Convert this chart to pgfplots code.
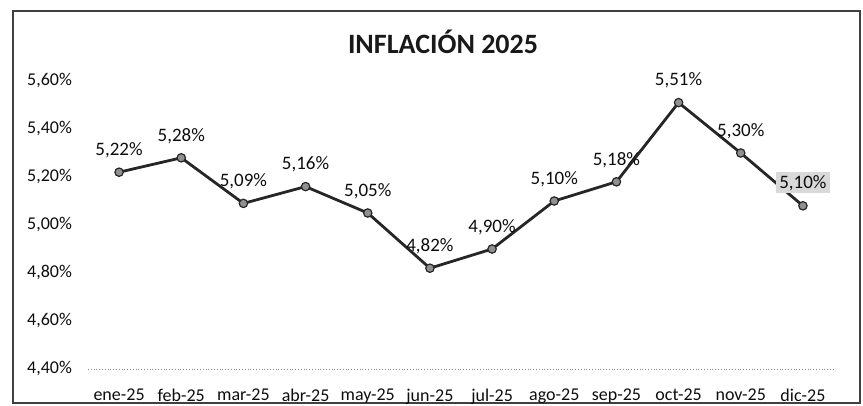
\documentclass[border=0pt]{standalone}
\usepackage{pgfplots}
\pgfplotsset{compat=1.18}
\usepackage{fontspec}
\setmainfont{Carlito}
\begin{document}
\begin{tikzpicture}
\useasboundingbox (0,0) rectangle (431.5pt,-203pt);
\draw[line width=1pt, black!75] (6.5pt,-5.5pt) rectangle (430pt,-201.5pt);
\node[font=\bfseries\fontsize{14}{16}\selectfont, text=black!90] at (221.5pt,-21pt) {INFLACIÓN 2025};
\begin{axis}[
  at={(44pt,-184.5pt)}, anchor=south west,
  scale only axis, width=373pt, height=144pt,
  xmin=-0.5, xmax=11.5, ymin=4.4, ymax=5.6,
  ytick={4.4,4.6,4.8,5.0,5.2,5.4,5.6},
  xtick={0,...,11},
  xticklabels={ene-25,feb-25,mar-25,abr-25,may-25,jun-25,jul-25,ago-25,sep-25,oct-25,nov-25,dic-25},
  yticklabel={\pgfmathprintnumber[fixed,fixed zerofill,precision=2,use comma]{\tick}\%},
  /pgf/number format/assume math mode=true,
  axis lines=left,
  x axis line style={black!45, densely dotted, -},
  y axis line style={draw=none, -},
  major tick length=0pt,
  tick label style={font=\fontsize{9}{10}\selectfont, text=black!95},
  yticklabel style={xshift=-4.5pt},
  xticklabel style={yshift=-6.5pt},
  clip=false,
]
\addplot[line width=1.4pt, black!85, mark=*, mark size=2.1pt,
  mark options={fill=gray!55!black!60, draw=black!85, line width=0.6pt},
  point meta=explicit symbolic,
  nodes near coords,
  every node near coord/.append style={anchor=center, yshift=11pt, font=\fontsize{9.5}{10}\selectfont, text=black!95}]
coordinates {
(0,5.22) [5,22\%]
(1,5.28) [5,28\%]
(2,5.09) [5,09\%]
(3,5.16) [5,16\%]
(4,5.05) [5,05\%]
(5,4.82) [4,82\%]
(6,4.90) [4,90\%]
(7,5.10) [5,10\%]
(8,5.18) [5,18\%]
(9,5.51) [5,51\%]
(10,5.30) [5,30\%]
(11,5.08) []
};
\addplot[draw=none, mark=none, forget plot,
  point meta=explicit symbolic,
  nodes near coords,
  every node near coord/.append style={anchor=center, yshift=11.5pt, font=\fontsize{9.5}{10}\selectfont, text=black!95, fill=gray!30, inner sep=1.5pt}]
coordinates {(11,5.08) [5,10\%]};
\end{axis}
\end{tikzpicture}
\end{document}
